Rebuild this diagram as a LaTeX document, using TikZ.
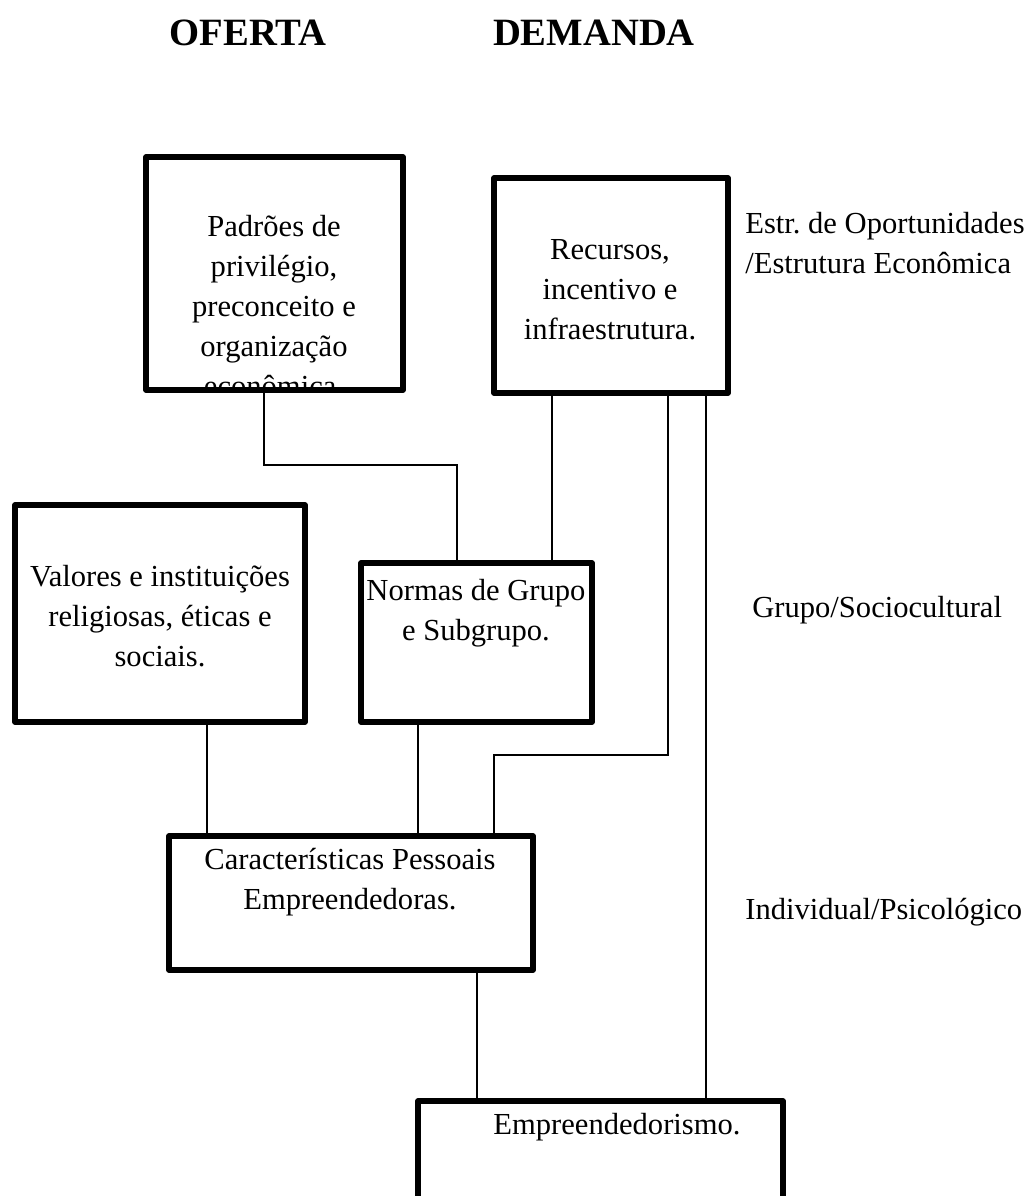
\documentclass[tikz,border=0pt]{standalone}
\usepackage{fontspec}
\setmainfont{Liberation Serif}
\usetikzlibrary{positioning,fit}
\frenchspacing

\tikzset{
  box/.style={draw, line width=3pt, line join=round, inner sep=0pt},
  link/.style={line width=0.8pt},
  txt/.style={font=\fontsize{17.4}{22.8}\selectfont, align=center, inner sep=0pt},
  side/.style={font=\fontsize{17.4}{22.8}\selectfont, align=left, anchor=west, inner sep=0pt},
  head/.style={font=\fontsize{22}{26}\selectfont\bfseries, inner sep=0pt}
}

\begin{document}
\begin{tikzpicture}[x=0.02cm, y=-0.02cm]
  \clip (0,0) rectangle (1029,1196);
  % Headings
  \node[head] (oferta) at (248,33) {OFERTA};
  \node[head] (demanda) at (594,33) {DEMANDA};
  % Boxes
  \node[box, fit={(146,157) (403,390)}] (pad) {};
  \node[box, fit={(494,178) (728,393)}] (rec) {};
  \node[box, fit={(15,505) (305,722)}] (val) {};
  \node[box, fit={(361,563) (592,722)}] (nor) {};
  \node[box, fit={(169,836) (533,970)}] (car) {};
  \node[box, fit={(418,1101) (783,1230)}] (emp) {};
  % Box texts
  \begin{scope}
    \clip ([yshift=0.055cm]pad.south west) rectangle (pad.north east);
    \node[txt] (padt) at (274,306) {Padrões de\\privilégio,\\preconceito e\\organização\\econômica.};
  \end{scope}
  \node[txt] (rect) at (610,290) {Recursos,\\incentivo e\\infraestrutura.};
  \node[txt] (valt) at (160,616) {Valores e instituições\\religiosas, éticas e\\sociais.};
  \node[txt] (nort) at (476,613) {Normas de Grupo\\e Subgrupo.};
  \node[txt] (cart) at (350,882) {Características Pessoais\\Empreendedoras.};
  \node[txt] (empt) at (617,1127) {Empreendedorismo.};
  % Level labels
  \node[side] (lopp) at (745,243) {Estr. de Oportunidades\\/Estrutura Econômica};
  \node[side] (lgrp) at (752,610) {Grupo/Sociocultural};
  \node[side] (lind) at (745,912) {Individual/Psicológico};
  % Connectors
  \coordinate (c1) at (264,465);
  \coordinate (c2) at (457,465);
  \coordinate (c3) at (552,0);
  \coordinate (c4) at (668,755);
  \coordinate (c5) at (494,755);
  \coordinate (c6) at (706,0);
  \coordinate (c7) at (207,0);
  \coordinate (c8) at (418,0);
  \coordinate (c9) at (477,0);
  \draw[link] (pad.south -| c1) -- (c1) -- (c2) -- (nor.north -| c2);
  \draw[link] (rec.south -| c3) -- (nor.north -| c3);
  \draw[link] (rec.south -| c4) -- (c4) -- (c5) -- (car.north -| c5);
  \draw[link] (rec.south -| c6) -- (emp.north -| c6);
  \draw[link] (val.south -| c7) -- (car.north -| c7);
  \draw[link] (nor.south -| c8) -- (car.north -| c8);
  \draw[link] (car.south -| c9) -- (emp.north -| c9);
\end{tikzpicture}
\end{document}
